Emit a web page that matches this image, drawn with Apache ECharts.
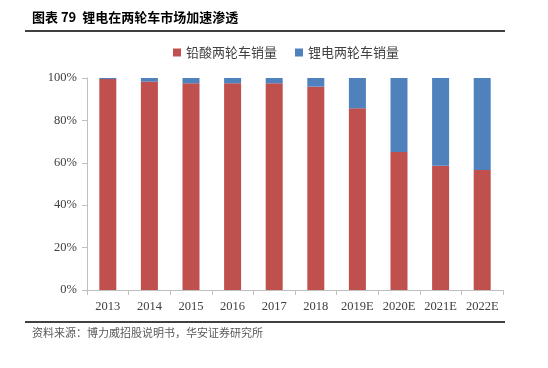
<!DOCTYPE html>
<html><head><meta charset="utf-8">
<script src="https://cdn.jsdelivr.net/npm/echarts@6/dist/echarts.min.js"></script>
<style>html,body{margin:0;padding:0;background:#fff}#c{width:548px;height:368px}</style>
</head><body><div id="c"></div>
<script>
const categories = ['2013','2014','2015','2016','2017','2018','2019E','2020E','2021E','2022E'];
const leadAcid = [99.5, 98.3, 97.5, 97.5, 97.5, 95.9, 85.7, 65.1, 58.6, 56.6];
const lithium = [0.5, 1.7, 2.5, 2.5, 2.5, 4.1, 14.3, 34.9, 41.4, 43.4];
const seriesNames = ['铅酸两轮车销量', '锂电两轮车销量'];
const titleText = '图表 79  锂电在两轮车市场加速渗透';
const sourceText = '资料来源：博力威招股说明书，华安证券研究所';

const chart = echarts.init(document.getElementById('c'));
const serif = '"Liberation Serif","Times New Roman",serif';
const cjk = '"Noto Sans CJK SC",sans-serif';
chart.setOption({
  animation: false,
  backgroundColor: '#fff',
  grid: {left: 87, right: 45, top: 78, bottom: 78},
  legend: {
    top: 41, left: 168, itemWidth: 8, itemHeight: 8, itemGap: 18,
    icon: 'rect',
    textStyle: {fontFamily: cjk, fontSize: 13, color: '#404040'},
    data: seriesNames
  },
  xAxis: {
    type: 'category', data: categories,
    axisLine: {lineStyle: {color: '#BFBFBF'}},
    axisTick: {show: true, length: 5, lineStyle: {color: '#BFBFBF'}},
    axisLabel: {interval: 0, hideOverlap: false, fontFamily: serif, fontSize: 12.5, color: '#404040', margin: 10}
  },
  yAxis: {
    type: 'value', min: 0, max: 100, interval: 20,
    axisLine: {show: true, lineStyle: {color: '#BFBFBF'}},
    axisTick: {show: true, length: 5, lineStyle: {color: '#BFBFBF'}},
    splitLine: {show: false},
    axisLabel: {fontFamily: serif, fontSize: 12.5, color: '#404040', margin: 10, formatter: '{value}%'}
  },
  series: [
    {name: seriesNames[0], type: 'bar', stack: 's', data: leadAcid, barWidth: 17,
     itemStyle: {color: '#C0504D'}},
    {name: seriesNames[1], type: 'bar', stack: 's', data: lithium, barWidth: 17,
     itemStyle: {color: '#4F81BD'}}
  ],
  graphic: [
    {type: 'text', left: 32, top: 11, style: {text: titleText, font: 'bold 13px "Noto Sans CJK SC",sans-serif', fill: '#000'}},
    {type: 'line', shape: {x1: 25, y1: 31, x2: 505, y2: 31}, style: {stroke: '#000', lineWidth: 1.5}},
    {type: 'line', shape: {x1: 25, y1: 322, x2: 505, y2: 322}, style: {stroke: '#000', lineWidth: 1.5}},
    {type: 'text', left: 32, top: 327, style: {text: sourceText, font: '11px "Noto Sans CJK SC",sans-serif', fill: '#595959'}}
  ]
});
</script></body></html>
